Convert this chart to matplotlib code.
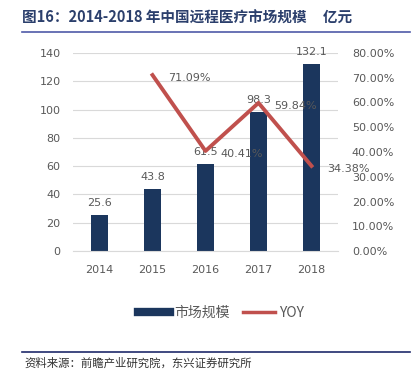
import matplotlib.pyplot as plt
from matplotlib.lines import Line2D

plt.rcParams['font.family'] = ['DejaVu Sans', 'Noto Sans CJK SC']

years = ['2014', '2015', '2016', '2017', '2018']
market = [25.6, 43.8, 61.5, 98.3, 132.1]
yoy = [None, 71.09, 40.41, 59.84, 34.38]

bar_color = '#1b365d'
line_color = '#c0504d'
text_color = '#595959'
cjk = ['Noto Sans CJK SC', 'DejaVu Sans']

fig = plt.figure(figsize=(4.16, 3.76), dpi=100)
ax = fig.add_axes([73 / 416, 1 - 251 / 376, 265 / 416, 198 / 376])

x = list(range(len(years)))
ax.bar(x, market, width=0.32, color=bar_color, zorder=2)
for xi, v in zip(x, market):
    ax.annotate(f'{v}', (xi, v), xytext=(0, 5), textcoords='offset points',
                ha='center', va='bottom', fontsize=8, color=text_color, zorder=5)

ax.set_xlim(-0.5, 4.5)
ax.set_ylim(0, 140)
ax.set_yticks(range(0, 141, 20))
ax.set_xticks(x)
ax.set_xticklabels(years)
ax.grid(axis='y', color='#d9d9d9', linewidth=0.8, zorder=0)
for s in ax.spines.values():
    s.set_visible(False)
ax.spines['bottom'].set_visible(True)
ax.spines['bottom'].set_color('#d9d9d9')
ax.tick_params(length=0, labelsize=8, colors=text_color)
ax.tick_params(axis='y', pad=9)
ax.tick_params(axis='x', pad=10)

ax2 = ax.twinx()
xs = [xi for xi, v in zip(x, yoy) if v is not None]
vs = [v for v in yoy if v is not None]
ax2.plot(xs, vs, color=line_color, linewidth=2.8, zorder=3)
for xi, v in zip(xs, vs):
    ax2.annotate(f'{v:.2f}%', (xi, v), xytext=(11, -2), textcoords='offset points',
                 ha='left', va='center', fontsize=8, color=text_color)
ax2.set_ylim(0, 80)
ax2.set_yticks(range(0, 81, 10))
ax2.set_yticklabels([f'{t:.2f}%' for t in range(0, 81, 10)])
for s in ax2.spines.values():
    s.set_visible(False)
ax2.tick_params(length=0, labelsize=8, colors=text_color, pad=10)

handles = [Line2D([0], [0], color=bar_color, linewidth=6),
           Line2D([0], [0], color=line_color, linewidth=2.5)]
fig.legend(handles, ['市场规模', 'YOY'], loc='center', bbox_to_anchor=(221 / 416, 1 - 313 / 376),
           ncol=2, frameon=False, prop={'family': cjk, 'size': 10}, labelcolor=text_color,
           handlelength=2.3, columnspacing=1.0, handletextpad=0.3)

fig.text(22 / 416, 1 - 18 / 376, '图16：2014-2018 年中国远程医疗市场规模     亿元',
         fontsize=10.5, fontweight='bold', color='#2b3f6c', va='center', family=cjk)
fig.add_artist(Line2D([22 / 416, 410 / 416], [1 - 32 / 376, 1 - 32 / 376], color='#4f5aa8', linewidth=1.2))
fig.add_artist(Line2D([22 / 416, 410 / 416], [1 - 352 / 376, 1 - 352 / 376], color='#1f2a6b', linewidth=1.2))
fig.text(24 / 416, 1 - 363 / 376, '资料来源：前瞻产业研究院，东兴证券研究所',
         fontsize=8.2, style='italic', color='#333333', va='center', family=cjk)

fig.savefig('out.png', dpi=100)
